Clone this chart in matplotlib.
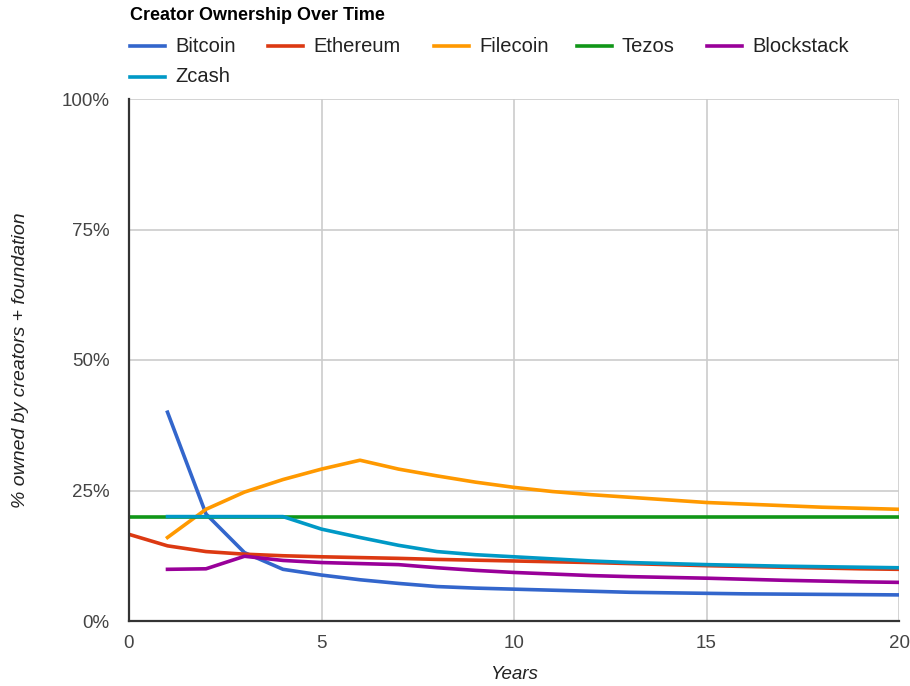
import matplotlib
matplotlib.use("Agg")
import matplotlib.pyplot as plt
import numpy as np

plt.rcParams['font.family'] = ['Liberation Sans', 'DejaVu Sans']

title = "Creator Ownership Over Time"
x_label = "Years"
y_label = "% owned by creators + foundation"

years = list(range(0, 21))
series_names = ["Bitcoin", "Ethereum", "Filecoin", "Tezos", "Blockstack", "Zcash"]
colors = ["#3366cc", "#dc3912", "#ff9900", "#109618", "#990099", "#0099c6"]

bitcoin = [None, 40.0, 20.5, 13.1, 9.9, 8.8, 7.9, 7.2, 6.6, 6.3, 6.1, 5.9, 5.7, 5.5, 5.4, 5.3, 5.2, 5.15, 5.1, 5.05, 5.0]
ethereum = [16.6, 14.4, 13.3, 12.8, 12.5, 12.3, 12.15, 12.0, 11.8, 11.65, 11.5, 11.35, 11.2, 11.0, 10.8, 10.6, 10.45, 10.3, 10.15, 10.0, 9.9]
filecoin = [None, 16.0, 21.4, 24.7, 27.1, 29.1, 30.8, 29.1, 27.8, 26.6, 25.6, 24.8, 24.2, 23.7, 23.2, 22.7, 22.4, 22.1, 21.8, 21.6, 21.4]
tezos = [20.0] * 21
blockstack = [None, 9.9, 10.0, 12.4, 11.6, 11.2, 11.0, 10.8, 10.2, 9.7, 9.3, 9.0, 8.7, 8.5, 8.35, 8.2, 8.0, 7.8, 7.65, 7.5, 7.4]
zcash = [None, 20.0, 20.0, 20.0, 20.0, 17.6, 16.0, 14.5, 13.3, 12.7, 12.3, 11.9, 11.5, 11.2, 11.0, 10.8, 10.65, 10.5, 10.4, 10.3, 10.2]

all_series = [bitcoin, ethereum, filecoin, tezos, blockstack, zcash]

x_ticks = [0, 5, 10, 15, 20]
y_ticks = [0, 25, 50, 75, 100]
y_tick_labels = ["0%", "25%", "50%", "75%", "100%"]

W, H = 910, 686
fig = plt.figure(figsize=(W / 100, H / 100), dpi=100)
ax_w = 899 - 129
ax = fig.add_axes([129 / W, 1 - 621 / H, ax_w / W, (621 - 99) / H])

for i in [3, 0, 1, 2, 4, 5]:
    vals = all_series[i]
    xs = [x for x, v in zip(years, vals) if v is not None]
    ys = [v for v in vals if v is not None]
    ax.plot(xs, ys, color=colors[i], lw=2.6, solid_joinstyle='round', zorder=3 + i * 0.1)

ax.set_xlim(0, 20)
ax.set_ylim(0, 100)
ax.set_xticks(x_ticks)
ax.set_xticklabels([str(t) for t in x_ticks])
ax.set_yticks(y_ticks)
ax.set_yticklabels(y_tick_labels)
ax.tick_params(length=0, labelsize=13.5, labelcolor="#444444")
ax.tick_params(axis='x', pad=10)
ax.tick_params(axis='y', pad=14)
ax.grid(True, color="#cccccc", lw=1.2, zorder=0)
for s in ["top", "right"]:
    ax.spines[s].set_visible(False)
for s in ["left", "bottom"]:
    ax.spines[s].set_color("#333333")
    ax.spines[s].set_linewidth(1.6)
    ax.spines[s].set_zorder(5)

ax.set_xlabel(x_label, fontsize=13.5, style='italic', color="#222222", labelpad=10)
ax.set_ylabel(y_label, fontsize=14, style='italic', color="#222222")
ax.yaxis.set_label_coords(-(129 - 29) / ax_w, 0.5)

fig.text(130 / W, 1 - 15 / H, title, fontsize=13, fontweight='bold', ha='left', va='center', color='black')

# legend
legend_pos = [(130, 46), (268, 46), (434, 46), (577, 46), (707, 46), (130, 77)]
for i, name in enumerate(series_names):
    lx, ly = legend_pos[i]
    fig.add_artist(plt.Line2D([lx / W, (lx + 35) / W], [1 - ly / H, 1 - ly / H],
                              color=colors[i], lw=2.6, transform=fig.transFigure))
    fig.text((lx + 45) / W, 1 - ly / H, name, fontsize=14.5, ha='left', va='center', color='#222222')

fig.savefig("out.png", dpi=100)
